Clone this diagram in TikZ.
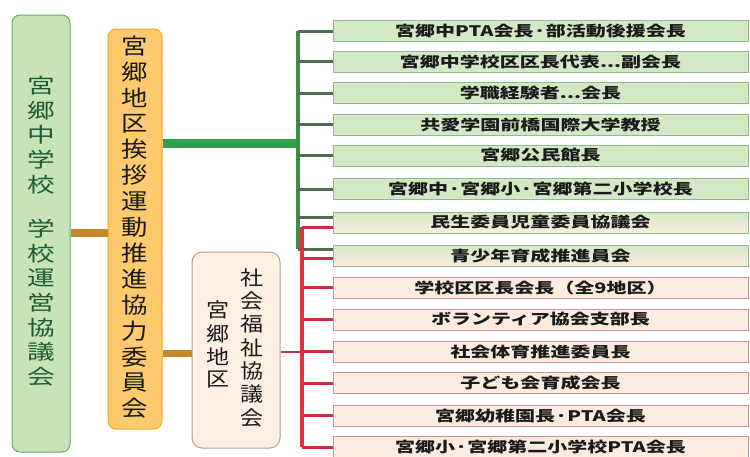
\documentclass[tikz,border=0pt]{standalone}
\usepackage{fontspec}
\usepackage{graphicx}
\newfontfamily\jp{Noto Sans CJK JP}
\newcommand\wide[1]{\scalebox{1.38}[1]{#1}}
\newcommand\vstack[2]{\scalebox{#1}[1]{\begin{tabular}{@{}c@{}}#2\end{tabular}}}
\definecolor{lgfill}{HTML}{C8E3B8}
\definecolor{lgdraw}{HTML}{6BAA6B}
\definecolor{ogfill}{HTML}{FDCB6E}
\definecolor{ogdraw}{HTML}{F5A623}
\definecolor{socfill}{HTML}{FDF0E3}
\definecolor{socdraw}{HTML}{B5A08E}
\definecolor{rgfill}{HTML}{D3E9C5}
\definecolor{rgdraw}{HTML}{8DBE86}
\definecolor{rpfill}{HTML}{FDEBDD}
\definecolor{rpdraw}{HTML}{C8949A}
\definecolor{brbar}{HTML}{C8872C}
\definecolor{gbar}{HTML}{2FA04C}
\definecolor{gbuscol}{HTML}{3E8E45}
\definecolor{gstubcol}{HTML}{4E6E4E}
\definecolor{rbuscol}{HTML}{E2323F}
\definecolor{rstubcol}{HTML}{C83040}
\definecolor{tgreen}{HTML}{1E5C36}
\definecolor{tdark}{HTML}{1A1A1A}
\tikzset{
  leftbox/.style={draw=lgdraw, fill=lgfill, rounded corners=8pt, line width=1pt,
    minimum width=58pt, minimum height=437pt, inner sep=0pt},
  lefttext/.style={text=tgreen, font=\jp\fontsize{20.5}{24.5}\selectfont, inner sep=0pt},
  orangebox/.style={draw=ogdraw, fill=ogfill, rounded corners=8pt, line width=1pt,
    minimum width=54pt, minimum height=400pt, inner sep=0pt},
  orangetext/.style={text=tdark, font=\jp\fontsize{22}{25.1}\selectfont, inner sep=0pt},
  socbox/.style={draw=socdraw, fill=socfill, rounded corners=10pt, line width=1pt,
    minimum width=88pt, minimum height=196pt, inner sep=0pt},
  soctext/.style={text=tdark, font=\jp\fontsize{20}{21.7}\selectfont, inner sep=0pt},
  rowbox/.style={minimum width=415pt, minimum height=21pt, inner sep=0pt, line width=0.9pt,
    text=tdark, font=\jp\bfseries\fontsize{14.5}{16}\selectfont},
  rg/.style={rowbox, draw=rgdraw, fill=rgfill},
  rp/.style={rowbox, draw=rpdraw, fill=rpfill},
  rgp/.style={rowbox, draw=rgdraw, top color=rgfill, bottom color=rpfill},
  brconn/.style={brbar, line width=8pt},
  gconn/.style={gbar, line width=9pt},
  gbusline/.style={gbuscol, line width=3.5pt},
  gstubline/.style={gstubcol, line width=3pt},
  rbusline/.style={rbuscol, line width=3.5pt},
  rstubline/.style={rstubcol, line width=3pt},
  rthin/.style={rstubcol, line width=1.5pt}
}
\begin{document}
\begin{tikzpicture}[x=1pt,y=-1pt]
\useasboundingbox (0,0) rectangle (750,456);
\fill[white] (0,0) rectangle (750,456);

% main boxes
\node[leftbox] (left) at (41,233.5) {};
\node[lefttext] (leftT) at (41,234) {\vstack{1.35}{宮\\郷\\中\\学\\校\\[20pt]学\\校\\運\\営\\協\\議\\会}};
\node[orangebox] (orange) at (135,229) {};
\node[orangetext] (orangeT) at (135,230) {\vstack{1.2}{宮\\郷\\地\\区\\挨\\拶\\運\\動\\推\\進\\協\\力\\委\\員\\会}};
\node[socbox] (soc) at (236,350) {};
\node[soctext] (socR) at (252,350) {\vstack{1.15}{社\\会\\福\\祉\\協\\議\\会}};
\node[soctext] (socL) at (218,347) {\vstack{1.15}{宮\\郷\\地\\区}};

% right list
\foreach \i/\y/\st/\t in {
  1/31/rg/宮郷中PTA会長·部活動後援会長,
  2/61.5/rg/宮郷中学校区区長代表{.}{.}{.}副会長,
  3/93/rg/学職経験者{.}{.}{.}会長,
  4/124.5/rg/共愛学園前橋国際大学教授,
  5/155.5/rg/宮郷公民館長,
  6/189/rg/宮郷中·宮郷小·宮郷第二小学校長,
  7/222.5/rgp/民生委員児童委員協議会,
  8/256/rgp/青少年育成推進員会,
  9/287.5/rp/学校区区長会長（全9地区）,
  10/319.5/rp/ボランティア協会支部長,
  11/351.5/rp/社会体育推進委員長,
  12/383/rp/子ども会育成会長,
  13/415.5/rp/宮郷幼稚園長·PTA会長,
  14/447/rp/宮郷小·宮郷第二小学校PTA会長}
  {\node[\st] (r\i) at (540.5,\y) {\wide{\t}};}

% bus coordinates
\coordinate (gb) at (298,143);
\coordinate (gend) at (298,249);
\coordinate (rb) at (302,352);
\coordinate (rtop) at (302,227);
\coordinate (rend) at (302,447);

% connectors between main boxes
\draw[brconn] (left.east |- 0,233) -- (orange.west |- 0,233);
\draw[brconn, line width=7pt] (orange.east |- 0,353) -- (soc.west |- 0,353);
\draw[gconn] (orange.east |- gb) -- (gb);

% green bus
\draw[gbusline] (r1.west -| gb) -- (gend);
\foreach \i in {1,...,6} {\draw[gstubline] (r\i.west) -- (r\i.west -| gb);}
\draw[gstubline] ([yshift=5pt]r7.west) -- ([yshift=5pt]r7.west -| gb);
\draw[gstubline] (gend) -- (gend -| r8.west);

% red bus
\draw[rthin] (soc.east |- rb) -- (rb);
\draw[rbusline] (rtop) -- (rend);
\draw[rstubline] (rtop) -- (rtop -| r7.west);
\draw[rstubline] ([yshift=-2pt]r8.west) -- ([yshift=-2pt]r8.west -| rb);
\foreach \i in {9,...,14} {\draw[rstubline] (r\i.west) -- (r\i.west -| rb);}
\end{tikzpicture}
\end{document}
